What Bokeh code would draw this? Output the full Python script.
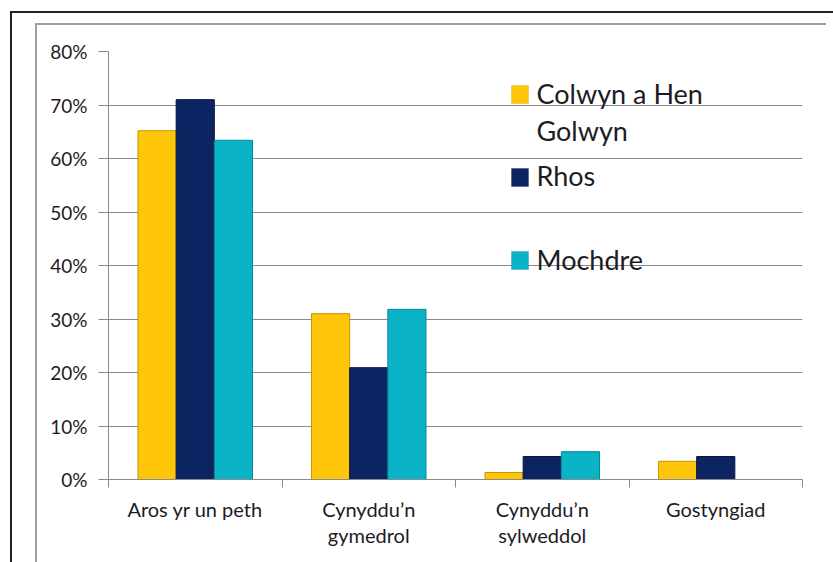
from bokeh.plotting import figure
from bokeh.models import (Range1d, FixedTicker, PrintfTickFormatter, BoxAnnotation, Label,
                          ColumnDataSource, InlineStyleSheet)
from bokeh.embed import file_html
from bokeh.resources import INLINE

# ---- data ----
categories = ["Aros yr un peth", "Cynyddu\u2019n\ngymedrol", "Cynyddu\u2019n\nsylweddol", "Gostyngiad"]
series_names = ["Colwyn a Hen\nGolwyn", "Rhos", "Mochdre"]
colwyn = [65.2, 31.0, 1.3, 3.4]
rhos = [71.0, 20.9, 4.3, 4.3]
mochdre = [63.4, 31.8, 5.2, 0.0]
y_ticks = [0, 10, 20, 30, 40, 50, 60, 70, 80]

colors = ["#FFC508", "#0C2562", "#0BB3C6"]
edges = ["#C99700", "#061640", "#07889A"]

FONT = "Lato"
TEXT = "#1c1c24"
GRID = "#8a8a8a"

p = figure(width=833, height=562, output_backend="svg", toolbar_location=None,
           x_range=Range1d(0, 4), y_range=Range1d(0, 80),
           min_border_left=108, min_border_right=31, min_border_top=51, min_border_bottom=83)
p.outline_line_color = None
p.background_fill_color = "white"
p.border_fill_color = "white"

width = 0.22
offsets = [-width, 0.0, width]
for vals, off, c, e in zip([colwyn, rhos, mochdre], offsets, colors, edges):
    xs = [i + 0.5 + off for i in range(len(categories))]
    src = ColumnDataSource(dict(x=xs, top=vals))
    p.vbar(x="x", top="top", width=width, bottom=0, source=src,
           fill_color=c, line_color=e, line_width=1)

# axes
p.xaxis.ticker = FixedTicker(ticks=[i + 0.5 for i in range(len(categories))],
                             minor_ticks=list(range(len(categories) + 1)))
p.xaxis.major_label_overrides = {i + 0.5: cat for i, cat in enumerate(categories)}
p.xaxis.major_tick_out = 0
p.xaxis.major_tick_in = 0
p.xaxis.minor_tick_out = 8
p.xaxis.minor_tick_in = 0
p.xaxis.minor_tick_line_color = GRID
p.xaxis.axis_line_color = GRID
p.xaxis.major_label_standoff = 9
p.xaxis.major_label_text_font = FONT
p.xaxis.major_label_text_font_size = "20px"
p.xaxis.major_label_text_color = TEXT
p.xaxis.major_label_text_line_height = 1.1

p.yaxis.ticker = FixedTicker(ticks=y_ticks)
p.yaxis.formatter = PrintfTickFormatter(format="%d%%")
p.yaxis.major_tick_out = 10
p.yaxis.major_tick_in = 0
p.yaxis.minor_tick_line_color = None
p.yaxis.major_tick_line_color = GRID
p.yaxis.axis_line_color = GRID
p.yaxis.major_label_standoff = 11
p.yaxis.major_label_text_font = FONT
p.yaxis.major_label_text_font_size = "19px"
p.yaxis.major_label_text_color = TEXT

p.xgrid.grid_line_color = None
p.ygrid.grid_line_color = GRID
p.ygrid.grid_line_width = 1

# outer chart-area frame of the original screenshot (pure decoration via CSS)
p.stylesheets = [InlineStyleSheet(css="""
:host::before { content: ''; position: absolute; left: 10px; top: 11px; right: 0; bottom: 0;
  border-left: 2px solid #222; border-top: 2px solid #222; pointer-events: none; z-index: 1000; }
:host::after { content: ''; position: absolute; left: 35px; top: 23px; width: 789px; bottom: 0;
  border-left: 2px solid #a0a0a0; border-top: 2px solid #a0a0a0; pointer-events: none; z-index: 1000; }
""")]

# legend (manual, Excel-style); screen units are relative to the frame's bottom-left
sq_top = [394, 311, 228]
leg_baselines = [[386, 349], [304], [220]]
for name, c, e, bl, st in zip(series_names, colors, edges, leg_baselines, sq_top):
    p.add_layout(BoxAnnotation(left=403, right=420, top=st, bottom=st - 18,
                               left_units="screen", right_units="screen",
                               top_units="screen", bottom_units="screen",
                               fill_color=c, fill_alpha=1, line_color=e, line_width=1))
    for line, yy in zip(name.split("\n"), bl):
        p.add_layout(Label(x=428, y=yy, x_units="screen", y_units="screen", text=line,
                           text_font=FONT, text_font_size="27px", text_color=TEXT,
                           text_baseline="alphabetic", text_align="left"))

open("out.html", "w").write(file_html(p, INLINE))
